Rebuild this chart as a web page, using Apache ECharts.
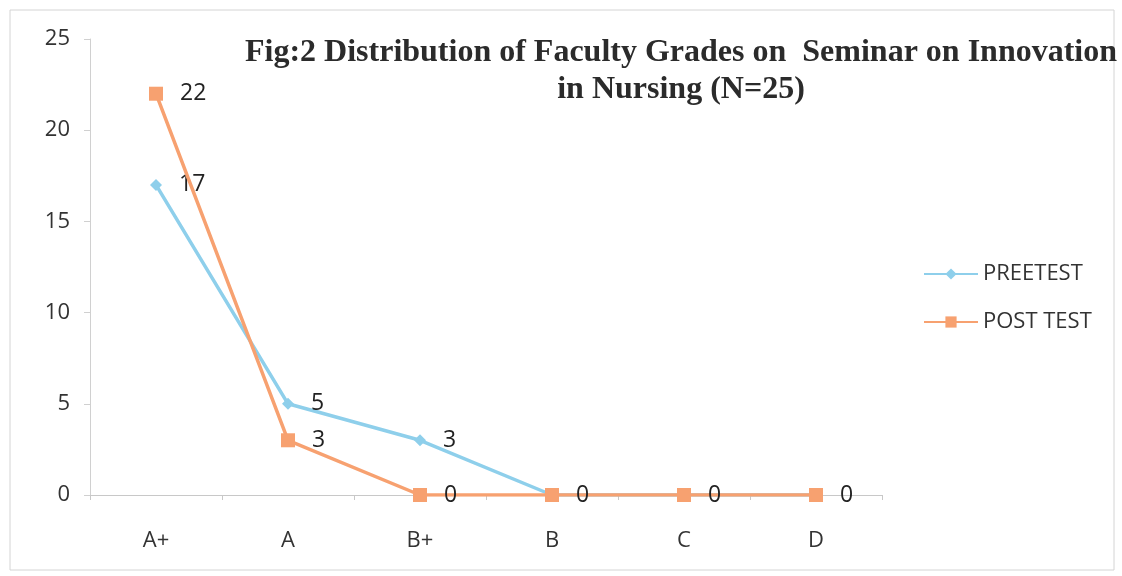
<!DOCTYPE html>
<html>
<head>
<meta charset="utf-8">
<script src="https://cdn.jsdelivr.net/npm/echarts@6/dist/echarts.min.js"></script>
<style>
  html, body { margin: 0; padding: 0; background: #fff; }
  #chart { width: 1122px; height: 576px; }
</style>
</head>
<body>
<div id="chart"></div>
<script>
// grades on the x axis
let grades = ['A+', 'A', 'B+', 'B', 'C', 'D'];
// faculty counts per grade
let preTest = [17, 5, 3, 0, 0, 0];
let postTest = [22, 3, 0, 0, 0, 0];
let yTicks = [0, 5, 10, 15, 20, 25];

let chart = echarts.init(document.getElementById('chart'));
let labelFont = '"Open Sans", "Noto Sans", sans-serif';

let option = {
    backgroundColor: '#fff',
    animation: false,
    title: {
        text: 'Fig:2 Distribution of Faculty Grades on  Seminar on Innovation\nin Nursing (N=25)',
        left: 676,
        top: 29,
        textAlign: 'center',
        textStyle: {
            fontFamily: '"Liberation Serif", "DejaVu Serif", serif',
            fontWeight: 'bold',
            fontSize: 32,
            lineHeight: 37,
            color: '#2b2b2b'
        }
    },
    graphic: [{
        type: 'rect',
        shape: { x: 10, y: 10, width: 1104, height: 560 },
        style: { fill: 'none', stroke: '#d4d4d4', lineWidth: 1 },
        silent: true
    }],
    legend: {
        orient: 'vertical',
        left: 918,
        top: 258,
        itemGap: 26,
        itemWidth: 54,
        itemHeight: 14,
        textStyle: { fontFamily: labelFont, fontSize: 22, color: '#333' },
        data: ['PREETEST', 'POST TEST']
    },
    grid: { left: 90, top: 39, width: 792, height: 456 },
    xAxis: {
        type: 'category',
        data: grades,
        boundaryGap: true,
        axisLine: { lineStyle: { color: '#c8c8c8' } },
        axisTick: { show: true, length: 5, lineStyle: { color: '#c8c8c8' } },
        axisLabel: { fontFamily: labelFont, fontSize: 22, color: '#333', margin: 35 }
    },
    yAxis: {
        type: 'value',
        min: yTicks[0],
        max: yTicks[yTicks.length - 1],
        interval: 5,
        axisLine: { show: true, lineStyle: { color: '#d0d0d0' } },
        axisTick: { show: true, length: 6, lineStyle: { color: '#d0d0d0' } },
        splitLine: { show: false },
        axisLabel: { fontFamily: labelFont, fontSize: 22, color: '#333', margin: 20 }
    },
    series: [
        {
            name: 'PREETEST',
            type: 'line',
            data: preTest,
            symbol: 'diamond',
            symbolSize: 12,
            color: '#8ecfeb',
            lineStyle: { width: 3.5, color: '#8ecfeb' },
            itemStyle: { color: '#8ecfeb' },
            label: {
                show: true, position: 'right', distance: 17,
                fontFamily: labelFont, fontSize: 23, color: '#222'
            },
            labelLayout: { hideOverlap: true },
            z: 2
        },
        {
            name: 'POST TEST',
            type: 'line',
            data: postTest,
            symbol: 'rect',
            symbolSize: 14,
            color: '#f7a170',
            lineStyle: { width: 3.5, color: '#f7a170' },
            itemStyle: { color: '#f7a170' },
            label: {
                show: true, position: 'right', distance: 17,
                fontFamily: labelFont, fontSize: 23, color: '#222'
            },
            labelLayout: { hideOverlap: true },
            z: 3
        }
    ]
};

option && chart.setOption(option);
</script>
</body>
</html>
